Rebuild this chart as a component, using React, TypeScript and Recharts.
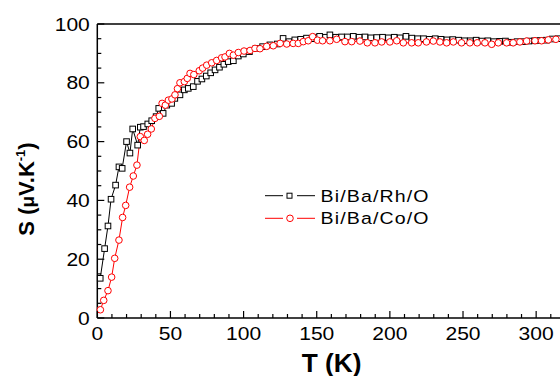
import React from "react"
import { LineChart, Line, XAxis, YAxis, Legend } from "recharts"

// Bi/Ba/Rh/O (black squares)
const rhT = [2, 5, 7.3, 9.4, 12.5, 14.8, 17, 20, 22.3, 24.2, 27.6, 29.4, 31.6, 34.5, 37.2, 40.2, 42, 45, 47.5, 50.8, 53, 56.5, 59.5, 62.2, 65.6, 68.5, 71.5, 74.5, 77.5, 80.5, 83.5, 86.5, 89.5, 93, 96.4, 99.8, 104, 108.5, 113, 118, 123, 127, 131, 135, 139, 143, 147, 150, 152, 156, 159, 163, 167, 171, 175, 179, 183, 187, 191, 195, 199, 203, 207, 211, 215, 219, 223, 227, 231, 235, 239, 243, 247, 251, 255, 259, 263, 267, 271, 275, 279, 283, 287, 291, 295, 299, 303, 307, 311, 315]
const rhS = [13.5, 23.6, 31.3, 40.4, 45.2, 51.4, 50.9, 60, 56.1, 64.3, 58.8, 64.9, 65.1, 66, 67.1, 68.5, 71.3, 69.6, 72.4, 73, 74.7, 75.9, 77.6, 78.1, 78.7, 80.5, 81.3, 82.3, 83.4, 84.4, 85.3, 86.3, 87.2, 87.5, 89.1, 89.8, 90.6, 91.7, 92.3, 92.9, 93.2, 95.1, 94, 94.6, 94.8, 95.2, 95, 95.5, 95.8, 95.5, 96.3, 95.5, 95.6, 95.6, 95.8, 95.5, 95.6, 95.3, 95.4, 95.5, 95.3, 95.5, 95.3, 95.8, 95.2, 95, 95, 94.8, 95, 94.8, 94.6, 94.7, 94.5, 94.3, 94.3, 94.5, 94.2, 94.3, 94, 94.1, 94.2, 93.8, 94, 94, 94.2, 94.3, 94.4, 94.5, 94.9, 95]

// Bi/Ba/Co/O (red circles)
const coT = [2.1, 4.4, 7.3, 9.8, 11.9, 14.8, 17.3, 19.4, 22.1, 24.6, 27.1, 29.4, 32.1, 34.4, 36.9, 39.4, 42.4, 44.3, 46.5, 48.6, 51, 53.1, 54.8, 56.5, 59.5, 61.5, 63.4, 66, 69.7, 72, 74.8, 78.2, 81.6, 85, 87.3, 90.3, 93, 96.4, 100.3, 104.4, 107.8, 111.2, 115.8, 120.3, 125, 129.5, 133.9, 137.4, 140.8, 144.2, 147.2, 150.5, 154, 159, 163.6, 169.3, 173.9, 179.5, 184.6, 189.8, 194.4, 200, 204.7, 209.2, 214.9, 219.4, 225, 229.7, 234.2, 238.8, 243.4, 249, 254.7, 259.7, 265, 269.6, 274.1, 279.8, 284.3, 288.9, 293.5, 299.2, 303.7, 308.3, 313.5]
const coS = [2.8, 6, 9.3, 13.9, 20.3, 26.5, 34.2, 38.3, 44.5, 48.3, 52, 61.7, 60.4, 62.5, 64.3, 67.9, 68.6, 73, 72.4, 74.1, 74.5, 75.9, 78, 80, 80.4, 81.5, 83.2, 82.8, 84.1, 85, 86, 86.8, 87.6, 88.5, 88.8, 90, 89.4, 90.3, 90.8, 91, 91.7, 91.6, 92.4, 92.6, 93.4, 93.2, 93.4, 93.4, 94, 94.3, 95.7, 94.5, 94.3, 94.3, 94.8, 94, 94, 94.2, 93.6, 93.6, 93.9, 93.9, 94.3, 93.6, 93.6, 93.6, 93.9, 94.2, 93.9, 93.6, 93.9, 93.6, 93.6, 93.6, 93.6, 93.1, 93.6, 93.6, 93.6, 93.9, 94.2, 94.3, 94.3, 94.6, 94.8]

const xTicks = [0, 10, 20, 30, 40, 50, 60, 70, 80, 90, 100, 110, 120, 130, 140, 150, 160, 170, 180, 190, 200, 210, 220, 230, 240, 250, 260, 270, 280, 290, 300, 310]
const yTicks = [0, 5, 10, 15, 20, 25, 30, 35, 40, 45, 50, 55, 60, 65, 70, 75, 80, 85, 90, 95, 100]

const rhName = "Bi/Ba/Rh/O"
const coName = "Bi/Ba/Co/O"

const rhData = rhT.map((t, i) => ({ t, s: rhS[i] }))
const coData = coT.map((t, i) => ({ t, s: coS[i] }))

const FONT = "'Liberation Sans', Arial, sans-serif"

function BottomTick({ x, y, payload }: any) {
  const major = payload.value % 50 === 0
  return (
    <g>
      <line x1={x} x2={x} y1={y} y2={y - (major ? 7 : 4)} stroke="#000" strokeWidth={1.2} />
      {major && (
        <text transform={`translate(${x},${y + 22}) scale(1.17,1)`} textAnchor="middle" fontSize={18} fontFamily={FONT} fill="#000">
          {payload.value}
        </text>
      )}
    </g>
  )
}

function TopTick({ x, y, payload }: any) {
  const major = payload.value % 50 === 0
  return <line x1={x} x2={x} y1={y} y2={y + (major ? 7 : 4)} stroke="#000" strokeWidth={1.2} />
}

function LeftTick({ x, y, payload }: any) {
  const major = payload.value % 20 === 0
  return (
    <g>
      <line x1={x} x2={x + (major ? 7 : 4)} y1={y} y2={y} stroke="#000" strokeWidth={1.2} />
      {major && (
        <text transform={`translate(${x - 7.5},${y + 6.5}) scale(1.17,1)`} textAnchor="end" fontSize={18} fontFamily={FONT} fill="#000">
          {payload.value}
        </text>
      )}
    </g>
  )
}

function SquareDot(props: any) {
  const { cx, cy, index } = props
  if (cx == null || cy == null) return <g key={index} />
  return <rect key={index} x={cx - 2.8} y={cy - 2.8} width={5.6} height={5.6} fill="#fff" stroke="#000" strokeWidth={1} />
}

function LegendBox() {
  const rows = [
    { name: rhName, color: "#000", square: true },
    { name: coName, color: "#ff0000", square: false },
  ]
  return (
    <svg width={200} height={50} style={{ display: "block" }}>
      {rows.map((r, i) => {
        const cy = 12.7 + i * 22.6
        return (
          <g key={r.name}>
            <line x1={3} x2={21} y1={cy} y2={cy} stroke={r.color} strokeWidth={1} />
            <line x1={35} x2={53} y1={cy} y2={cy} stroke={r.color} strokeWidth={1} />
            {r.square ? (
              <rect x={25} y={cy - 2.5} width={5} height={5} fill="#fff" stroke={r.color} strokeWidth={1} />
            ) : (
              <circle cx={28} cy={cy} r={3.3} fill="#fff" stroke={r.color} strokeWidth={1} />
            )}
            <text
              transform={`translate(58.5,${cy + 6}) scale(1.15,1)`}
              fontSize={17}
              letterSpacing={1}
              fontFamily={FONT}
              fill="#000"
            >
              {r.name}
            </text>
          </g>
        )
      })}
    </svg>
  )
}

export default function App() {
  return (
    <div style={{ position: "absolute", left: 0, top: 0, width: 560, height: 376, background: "#fff" }}>
      <LineChart width={560} height={376} margin={{ top: 0, right: 0, bottom: 0, left: 37.3 }}>
        <XAxis
          xAxisId="bottom"
          dataKey="t"
          type="number"
          domain={[0, 316.3]}
          ticks={xTicks}
          interval={0}
          height={58}
          tickSize={0}
          tickMargin={0}
          tick={<BottomTick />}
          axisLine={{ stroke: "#000", strokeWidth: 1.5 }}
          tickLine={false}
          label={{
            content: () => (
              <text transform="translate(331.5,372) scale(1.05,1)" textAnchor="middle" fontSize={25} fontWeight="bold" fontFamily={FONT} fill="#000">
                T (K)
              </text>
            ),
          }}
        />
        <XAxis
          xAxisId="top"
          orientation="top"
          dataKey="t"
          type="number"
          domain={[0, 316.3]}
          ticks={xTicks}
          interval={0}
          height={24}
          tickSize={0}
          tickMargin={0}
          tick={<TopTick />}
          axisLine={{ stroke: "#000", strokeWidth: 1.5 }}
          tickLine={false}
        />
        <YAxis
          yAxisId="left"
          type="number"
          domain={[0, 100]}
          ticks={yTicks}
          interval={0}
          width={60}
          tickSize={0}
          tickMargin={0}
          tick={<LeftTick />}
          axisLine={{ stroke: "#000", strokeWidth: 1.5 }}
          tickLine={false}
          label={{
            content: () => (
              <text transform="translate(33.5,189) rotate(-90)" textAnchor="middle" fontSize={22} fontWeight="bold" fontFamily={FONT} fill="#000">
                S (
                <tspan fontSize={19}>μ</tspan>
                V.K
                <tspan fontSize={13} dy={-9}>-1</tspan>
                <tspan dy={9}>)</tspan>
              </text>
            ),
          }}
        />
        <Legend
          layout="vertical"
          align="center"
          verticalAlign="middle"
          wrapperStyle={{ position: "absolute", left: 262, top: 183, width: 200, height: 50 }}
          content={() => <LegendBox />}
        />
        <Line
          data={rhData}
          dataKey="s"
          name={rhName}
          xAxisId="bottom"
          yAxisId="left"
          type="linear"
          stroke="#000"
          strokeWidth={1}
          dot={SquareDot}
          activeDot={false}
          isAnimationActive={false}
        />
        <Line
          data={coData}
          dataKey="s"
          name={coName}
          xAxisId="bottom"
          yAxisId="left"
          type="linear"
          stroke="#ff0000"
          strokeWidth={1}
          dot={{ r: 3.3, fill: "#fff", stroke: "#ff0000", strokeWidth: 1 }}
          activeDot={false}
          isAnimationActive={false}
        />
      </LineChart>
    </div>
  )
}
